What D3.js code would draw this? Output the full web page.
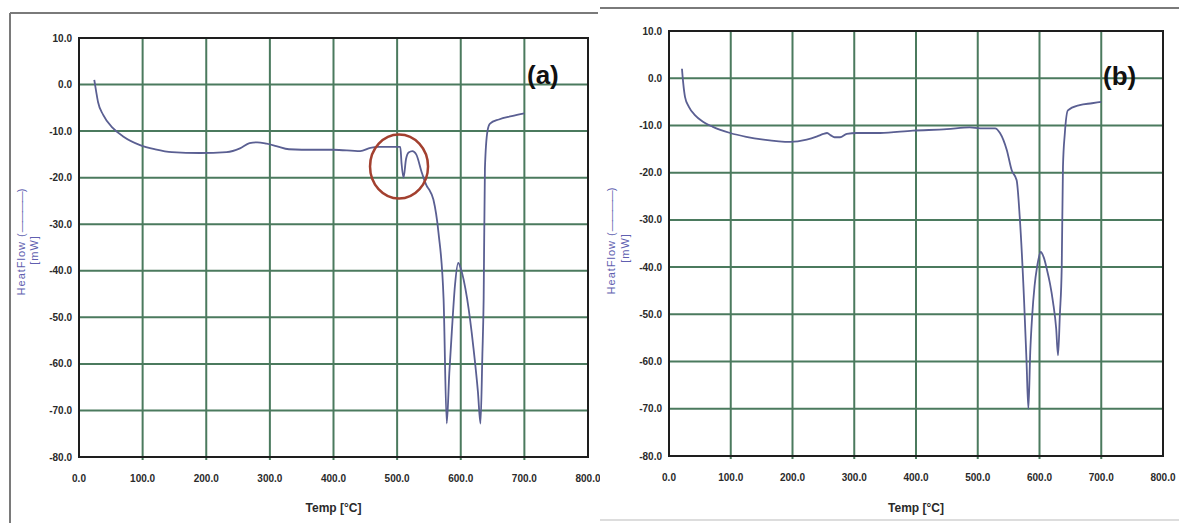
<!DOCTYPE html>
<meta charset="utf-8">
<style>
  body { margin: 0; background: #fff; }
  text { font-family: "Liberation Sans", Arial, sans-serif; }
</style>
<body>
<script src="https://cdn.jsdelivr.net/npm/d3@7"></script>
<script>
var width = 1179,
    height = 523;

// axis ticks
var xTicks = [0, 100, 200, 300, 400, 500, 600, 700, 800];
var yTicks = [10, 0, -10, -20, -30, -40, -50, -60, -70, -80];

// curve (a)
var tempA = [24, 27, 30, 38, 53, 70, 96, 120, 146, 190, 232, 253, 268, 280, 295, 310, 330, 350, 400, 442,
  458, 470, 505, 507, 510, 514, 518, 524, 530, 539, 547, 550, 557, 565, 573, 578, 582, 586, 591, 596,
  600, 610, 620, 627, 631, 634, 636, 638, 642, 646, 660, 680, 700];
var heatA = [1.0, -1.5, -3.8, -6.5, -9.3, -11.2, -13.0, -13.9, -14.5, -14.7, -14.5, -13.7, -12.6, -12.4, -12.7, -13.2, -13.9, -14.0, -14.0, -14.3,
  -13.6, -13.4, -13.4, -17.0, -20.0, -16.0, -14.6, -14.3, -15.0, -19.0, -21.9, -22.5, -24.7, -31.8, -46.0, -72.8, -62.0, -53.0, -43.0, -38.3,
  -39.5, -46.0, -56.6, -66.0, -72.8, -58.0, -46.0, -18.0, -10.0, -8.4, -7.5, -6.8, -6.2];

// curve (b)
var tempB = [21, 23, 26, 32, 42, 55, 71, 99, 125, 153, 196, 223, 240, 250, 256, 262, 268, 277, 288, 304,
  342, 395, 450, 487, 504, 528, 536, 547, 555, 563, 568, 575, 579, 582, 585, 588, 592, 596, 602, 607,
  612, 617, 622, 627, 630, 633, 636, 638, 641, 646, 665, 685, 700];
var heatB = [2.0, -1.0, -4.0, -6.0, -7.8, -9.2, -10.3, -11.6, -12.4, -13.0, -13.5, -13.0, -12.3, -11.8, -11.6, -12.1, -12.5, -12.5, -11.8, -11.6,
  -11.6, -11.1, -10.8, -10.4, -10.6, -10.6, -11.6, -15.2, -19.5, -21.6, -29.4, -47.0, -60.0, -70.0, -58.0, -50.6, -44.0, -40.0, -36.8, -38.0,
  -40.5, -43.5, -47.5, -53.0, -58.7, -50.0, -40.0, -18.8, -11.7, -6.8, -5.7, -5.3, -5.0];

// highlighted spot on (a)
var markA = {temp: 503, heat: -17.6};

var gridColor = "#4b7a5e",
    lineColor = "#5a5f92",
    labelColor = "#5f5fb0";

var svg = d3.select("body").append("svg")
    .attr("width", width)
    .attr("height", height);

function panel(cfg) {
  var g = svg.append("g");

  if (cfg.bg) {
    g.append("rect")
      .attr("x", cfg.bg[0]).attr("y", 0)
      .attr("width", width - cfg.bg[0]).attr("height", height)
      .attr("fill", "#fff");
  }

  // outer frame lines
  cfg.frame.forEach(function(f) {
    g.append("line")
      .attr("x1", f[0]).attr("y1", f[1]).attr("x2", f[2]).attr("y2", f[3])
      .attr("stroke", f[4]).attr("stroke-width", 2);
  });

  var x = d3.scaleLinear().domain([0, 800]).range([cfg.left, cfg.right]);
  var y = d3.scaleLinear().domain([-80, 10]).range([cfg.bottom, cfg.top]);

  // grid
  g.selectAll(".vg").data(xTicks.slice(1, -1)).enter().append("line")
    .attr("x1", d => x(d)).attr("x2", d => x(d))
    .attr("y1", cfg.top).attr("y2", cfg.bottom + 3)
    .attr("stroke", gridColor).attr("stroke-width", 2);
  g.selectAll(".hg").data(yTicks.slice(1, -1)).enter().append("line")
    .attr("x1", cfg.left).attr("x2", cfg.right)
    .attr("y1", d => y(d)).attr("y2", d => y(d))
    .attr("stroke", gridColor).attr("stroke-width", 2);

  g.append("rect")
    .attr("x", cfg.left).attr("y", cfg.top)
    .attr("width", cfg.right - cfg.left).attr("height", cfg.bottom - cfg.top)
    .attr("fill", "none").attr("stroke", "#1e1e1e").attr("stroke-width", 2);

  var fmt = d => d3.format(".1f")(d).replace("\u2212", "-");
  g.selectAll(".yl").data(yTicks).enter().append("text")
    .attr("x", cfg.left - 7).attr("y", d => y(d))
    .attr("dy", "0.35em")
    .attr("text-anchor", "end")
    .attr("font-size", 10).attr("font-weight", "bold").attr("fill", "#2a2a2a")
    .text(fmt);
  g.selectAll(".xl").data(xTicks).enter().append("text")
    .attr("x", d => x(d)).attr("y", cfg.bottom + 21)
    .attr("dy", "0.35em")
    .attr("text-anchor", "middle")
    .attr("font-size", 10).attr("font-weight", "bold").attr("fill", "#2a2a2a")
    .text(fmt);

  g.append("text")
    .attr("x", (cfg.left + cfg.right) / 2).attr("y", 512)
    .attr("text-anchor", "middle")
    .attr("font-size", 12).attr("font-weight", "bold").attr("fill", "#2a2a2a")
    .text("Temp [°C]");

  var yl = g.append("text")
    .attr("transform", "translate(" + cfg.ylab[0] + "," + cfg.ylab[1] + ") rotate(-90)")
    .attr("text-anchor", "middle")
    .attr("font-size", 11).attr("fill", labelColor);
  yl.append("tspan").attr("letter-spacing", 1).text("HeatFlow (");
  yl.append("tspan").attr("letter-spacing", -1).text("————");
  yl.append("tspan").text(")");
  g.append("text")
    .attr("transform", "translate(" + cfg.ylab[2] + "," + cfg.ylab[3] + ") rotate(-90)")
    .attr("text-anchor", "middle")
    .attr("font-size", 11).attr("letter-spacing", 1).attr("fill", labelColor)
    .text("[mW]");

  var line = d3.line()
    .curve(d3.curveMonotoneX)
    .x(d => x(d[0]))
    .y(d => y(d[1]));
  g.append("path")
    .datum(d3.zip(cfg.temp, cfg.heat))
    .attr("d", line)
    .attr("fill", "none")
    .attr("stroke", lineColor)
    .attr("stroke-width", 1.8)
    .attr("stroke-linejoin", "round");

  if (cfg.mark) {
    g.append("ellipse")
      .attr("cx", x(cfg.mark.temp)).attr("cy", y(cfg.mark.heat))
      .attr("rx", 29).attr("ry", 32)
      .attr("fill", "none").attr("stroke", "#a3402f").attr("stroke-width", 2.5);
  }

  g.append("text")
    .attr("x", cfg.tag[0]).attr("y", cfg.tag[1])
    .attr("font-size", 26).attr("font-weight", "bold").attr("fill", "#111")
    .text(cfg.tag[2]);
}

panel({
  left: 79, right: 588, top: 38, bottom: 457,
  temp: tempA, heat: heatA, mark: markA,
  frame: [[10, 13, 598, 13, "#7a7a7a"], [10, 13, 10, 523, "#7a7a7a"]],
  ylab: [25, 242, 38, 250],
  tag: [527, 84, "(a)"]
});

panel({
  left: 669, right: 1163, top: 31, bottom: 456,
  temp: tempB, heat: heatB,
  bg: [600],
  frame: [[600, 8, 1179, 8, "#7a7a7a"], [600, 520, 1179, 520, "#dddddd"]],
  ylab: [615, 241, 629, 248],
  tag: [1103, 85, "(b)"]
});
</script>
</body>
